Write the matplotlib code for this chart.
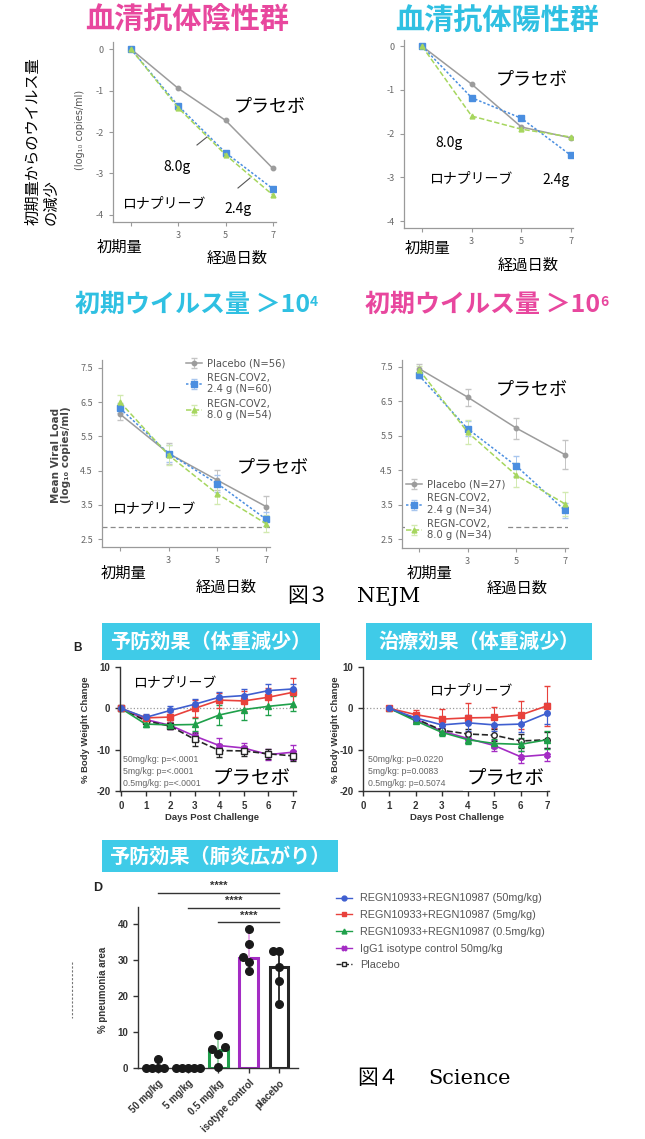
import numpy as np
import matplotlib
matplotlib.use('Agg')
import matplotlib.pyplot as plt
from matplotlib.lines import Line2D
from matplotlib.patches import Rectangle

plt.rcParams['font.family'] = ['Noto Sans CJK JP', 'DejaVu Sans']

W, H = 645, 1139

# ---- NEJM: change from baseline (top) ----
days_nejm = [1, 3, 5, 7]
day_labels = ['', '3', '5', '7']
neg_placebo = [0, -0.95, -1.72, -2.88]
neg_24 = [0, -1.37, -2.50, -3.37]
neg_80 = [0, -1.42, -2.55, -3.52]
pos_placebo = [0, -0.87, -1.85, -2.10]
pos_24 = [0, -1.18, -1.65, -2.50]
pos_80 = [0, -1.60, -1.90, -2.08]

# ---- NEJM: mean viral load (middle) ----
vl4_placebo = [6.15, 5.00, 4.22, 3.45]
vl4_placebo_err = [0.18, 0.32, 0.30, 0.32]
vl4_24 = [6.32, 5.00, 4.12, 3.08]
vl4_24_err = [0.15, 0.25, 0.25, 0.20]
vl4_80 = [6.50, 4.95, 3.82, 2.95]
vl4_80_err = [0.22, 0.30, 0.28, 0.25]
vl6_placebo = [7.45, 6.62, 5.72, 4.95]
vl6_placebo_err = [0.12, 0.25, 0.30, 0.42]
vl6_24 = [7.25, 5.70, 4.62, 3.33]
vl6_24_err = [0.08, 0.22, 0.28, 0.22]
vl6_80 = [7.42, 5.60, 4.35, 3.52]
vl6_80_err = [0.10, 0.35, 0.35, 0.35]
lod = 2.85
leg4 = ['Placebo (N=56)', 'REGN-COV2,\n2.4 g (N=60)', 'REGN-COV2,\n8.0 g (N=54)']
leg6 = ['Placebo (N=27)', 'REGN-COV2,\n2.4 g (N=34)', 'REGN-COV2,\n8.0 g (N=34)']

# ---- Science: body weight change ----
days_pro = [0, 1, 2, 3, 4, 5, 6, 7]
pro_50 = [0, -2.2, -0.5, 1.0, 2.7, 3.1, 4.3, 4.7]
pro_50_err = [0, 0.8, 1.0, 1.2, 1.3, 1.5, 1.5, 1.3]
pro_5 = [0, -2.3, -2.1, 0.0, 2.0, 1.8, 2.7, 3.9]
pro_5_err = [0, 0.8, 1.2, 2.0, 1.8, 2.5, 2.2, 3.5]
pro_05 = [0, -3.8, -4.0, -3.9, -1.6, -0.3, 0.5, 1.1]
pro_05_err = [0, 0.6, 0.8, 1.5, 2.5, 2.5, 2.0, 1.8]
pro_igg = [0, -2.7, -4.1, -6.7, -9.0, -9.6, -11.2, -10.6]
pro_igg_err = [0, 0.8, 0.8, 1.0, 1.8, 1.3, 1.3, 1.8]
pro_pbo = [0, -3.0, -4.3, -7.5, -10.2, -10.3, -11.0, -11.5]
pro_pbo_err = [0, 0.8, 0.8, 1.5, 1.5, 1.2, 1.2, 1.2]

days_ther = [1, 2, 3, 4, 5, 6, 7]
ther_50 = [0, -2.3, -4.0, -3.5, -4.0, -3.8, -1.2]
ther_50_err = [0, 0.8, 1.5, 2.0, 1.5, 2.0, 2.5]
ther_5 = [0, -1.5, -2.6, -2.3, -2.2, -1.6, 0.6]
ther_5_err = [0, 1.0, 2.5, 3.5, 2.5, 3.3, 4.8]
ther_05 = [0, -3.0, -5.8, -7.6, -8.5, -8.7, -7.6]
ther_05_err = [0, 0.6, 0.8, 1.0, 1.2, 1.5, 2.2]
ther_igg = [0, -2.6, -5.5, -7.3, -9.0, -11.7, -11.2]
ther_igg_err = [0, 0.6, 0.8, 1.0, 1.3, 1.5, 1.5]
ther_pbo = [0, -2.5, -5.3, -6.2, -6.5, -7.9, -7.6]
ther_pbo_err = [0, 0.8, 1.0, 1.2, 1.5, 1.8, 2.0]

pval_pro = ['50mg/kg: p=<.0001', '5mg/kg: p=<.0001', '0.5mg/kg: p=<.0001']
pval_ther = ['50mg/kg: p=0.0220', '5mg/kg: p=0.0083', '0.5mg/kg: p=0.5074']
sci_labels = ['REGN10933+REGN10987 (50mg/kg)', 'REGN10933+REGN10987 (5mg/kg)',
              'REGN10933+REGN10987 (0.5mg/kg)', 'IgG1 isotype control 50mg/kg', 'Placebo']

# ---- Science: pneumonia area ----
pneu_groups = ['50 mg/kg', '5 mg/kg', '0.5 mg/kg', 'isotype control', 'placebo']
pneu_bar = [0, 0, 5.0, 30.5, 28.0]
pneu_pts = [[0, 0, 0, 0, 2.4],
            [0, 0, 0, 0, 0],
            [0.2, 4.0, 5.3, 5.8, 9.2],
            [27.0, 29.5, 30.8, 34.3, 38.7],
            [17.8, 24.2, 28.0, 32.4, 32.4]]
sig_pairs = [(2, 4), (1, 4), (0, 4)]

PINK = '#e8479e'
CYAN = '#2fc0e2'
BANNER = '#3fcbe8'
C_PBO, C_24, C_80 = '#9c9c9c', '#4a8ee0', '#a6d65e'
SCI = {'50': '#3f5fd0', '5': '#e8413c', '05': '#1fa04a', 'igg': '#a42cc4', 'pbo': '#262626'}

fig = plt.figure(figsize=(W / 100, H / 100), dpi=100)


def px_axes(x0, y0, x1, y1):
    ax = fig.add_axes([x0 / W, 1 - y1 / H, (x1 - x0) / W, (y1 - y0) / H])
    ax.patch.set_alpha(0)
    return ax


def nejm_axes(box, xl, yl, yt, ytl):
    ax = px_axes(*box)
    ax.set_xlim(*xl)
    ax.set_ylim(*yl)
    for s in ('top', 'right'):
        ax.spines[s].set_visible(False)
    for s in ('left', 'bottom'):
        ax.spines[s].set_color('#9a9a9a')
        ax.spines[s].set_linewidth(0.9)
    ax.tick_params(colors='#9a9a9a', labelcolor='#666666', labelsize=6.5, length=3, width=0.8)
    ax.set_xticks(days_nejm)
    ax.set_xticklabels(day_labels)
    ax.set_yticks(yt)
    ax.set_yticklabels(ytl)
    return ax


def draw_nejm(ax, pl, a, b, e=(None, None, None)):
    h1 = ax.errorbar(days_nejm, pl, yerr=e[0], color=C_PBO, ecolor='#c4c4c4', marker='o', ms=3.2,
                     lw=1.1, capsize=2, elinewidth=0.7)
    h2 = ax.errorbar(days_nejm, a, yerr=e[1], color=C_24, ecolor='#a8c6ee', marker='s', ms=3.8,
                     lw=1.1, ls=(0, (1.6, 1.3)), capsize=2, elinewidth=0.7)
    h3 = ax.errorbar(days_nejm, b, yerr=e[2], color=C_80, ecolor='#d2eab0', marker='^', ms=3.5,
                     lw=1.1, ls=(0, (3.5, 1.6)), capsize=2, elinewidth=0.7)
    return [h1, h2, h3]


# top-left
ax1 = nejm_axes((113, 42, 276, 222), (0.24, 7.13), (-4.17, 0.17),
                [0, -1, -2, -3, -4], ['0', '-1', '-2', '-3', '-4'])
draw_nejm(ax1, neg_placebo, neg_24, neg_80)
# top-right
ax2 = nejm_axes((404, 40, 573, 228), (0.275, 7.08), (-4.16, 0.14),
                [0, -1, -2, -3, -4], ['0', '-1', '-2', '-3', '-4'])
draw_nejm(ax2, pos_placebo, pos_24, pos_80)

vt = [2.5, 3.5, 4.5, 5.5, 6.5, 7.5]
vtl = ['2.5', '3.5', '4.5', '5.5', '6.5', '7.5']
ax3 = nejm_axes((102, 360, 270, 547), (0.26, 7.16), (2.27, 7.73), vt, vtl)
ax3.axhline(lod, color='#8a8a8a', ls=(0, (4, 2.5)), lw=0.9)
hs = draw_nejm(ax3, vl4_placebo, vl4_24, vl4_80, (vl4_placebo_err, vl4_24_err, vl4_80_err))
ax3.legend(hs, leg4, loc='upper left', bbox_to_anchor=(0.50, 1.01), frameon=False,
           labelcolor='#555555', handlelength=1.6, handletextpad=0.5, borderpad=0, borderaxespad=0,
           labelspacing=0.45, prop={'family': 'DejaVu Sans', 'size': 7.2})

ax4 = nejm_axes((402, 360, 568, 548), (0.30, 7.12), (2.24, 7.70), vt, vtl)
ax4.axhline(lod, color='#8a8a8a', ls=(0, (4, 2.5)), lw=0.9)
hs = draw_nejm(ax4, vl6_placebo, vl6_24, vl6_80, (vl6_placebo_err, vl6_24_err, vl6_80_err))
ax4.legend(hs, leg6, loc='lower left', bbox_to_anchor=(0.02, 0.035), frameon=True, facecolor='white',
           edgecolor='none', framealpha=1, labelcolor='#555555', handlelength=1.6, handletextpad=0.5,
           borderpad=0.1, borderaxespad=0, labelspacing=0.4,
           prop={'family': 'DejaVu Sans', 'size': 7.2})

# ---- body weight panels ----
SANS = ['Liberation Sans', 'DejaVu Sans']


def prism_axes(box, xl):
    ax = px_axes(*box)
    ax.set_xlim(*xl)
    ax.set_ylim(-20, 10.5)
    for s in ('top', 'right'):
        ax.spines[s].set_visible(False)
    ax.spines['left'].set_bounds(-20, 10)
    for s in ('left', 'bottom'):
        ax.spines[s].set_linewidth(1.0)
        ax.spines[s].set_color('#333333')
    ax.set_yticks([-20, -10, 0, 10])
    ax.set_yticklabels(['-20', '-10', '0', '10'])
    ax.set_xticks(range(8))
    ax.tick_params(labelsize=7, length=3.5, width=1, colors='#333333')
    for lbl in ax.get_xticklabels() + ax.get_yticklabels():
        lbl.set_fontweight('bold')
        lbl.set_family(SANS)
    ax.axhline(0, color='#999999', ls=':', lw=0.9)
    return ax


def draw_bw(ax, days, sets, pbo_marker):
    styles = [('igg', 'X', '-', None), ('pbo', pbo_marker, '--', 'white'), ('05', '^', '-', None),
              ('5', 's', '-', None), ('50', 'o', '-', None)]
    for (k, m, ls, mfc), (y, e) in zip(styles, sets):
        ax.errorbar(days, y, yerr=e, color=SCI[k], marker=m, ms=4, lw=1.2, ls=ls,
                    mfc=mfc if mfc else SCI[k], capsize=2.5, elinewidth=0.8, clip_on=False)


bwL = prism_axes((120, 665, 296, 791), (-0.04, 7.12))
draw_bw(bwL, days_pro, [(pro_igg, pro_igg_err), (pro_pbo, pro_pbo_err), (pro_05, pro_05_err),
                        (pro_5, pro_5_err), (pro_50, pro_50_err)], 's')
bwR = prism_axes((363, 665, 549, 791), (0, 7.08))
draw_bw(bwR, days_ther, [(ther_igg, ther_igg_err), (ther_pbo, ther_pbo_err), (ther_05, ther_05_err),
                         (ther_5, ther_5_err), (ther_50, ther_50_err)], 'o')

# ---- pneumonia bar chart ----
bx = px_axes(138, 907, 298, 1068)
bx.set_xlim(-0.66, 4.63)
bx.set_ylim(0, 44.7)
for s in ('top', 'right'):
    bx.spines[s].set_visible(False)
for s in ('left', 'bottom'):
    bx.spines[s].set_linewidth(1.0)
    bx.spines[s].set_color('#333333')


def swarm(vals, dy=2.3, dx=0.2):
    placed, offs = [], []
    for v in vals:
        for k in [0, -1, 1, -2, 2, -3, 3]:
            o = k * dx
            if all(abs(v - pv) >= dy or abs(o - po) >= dx * 0.99 for pv, po in placed):
                break
        placed.append((v, o))
        offs.append(o)
    return np.array(offs)


bar_cols = [SCI['50'], SCI['5'], SCI['05'], SCI['igg'], SCI['pbo']]
err_cols = ['#222222', '#222222', '#9ad4a8', '#e6a6ea', '#222222']
for i, (h, pts) in enumerate(zip(pneu_bar, pneu_pts)):
    bx.bar(i, h, width=0.62, facecolor='white', edgecolor=bar_cols[i], lw=2.2, zorder=2)
    bx.errorbar(i, h, yerr=[[h - min(pts)], [max(pts) - h]], color=err_cols[i], capsize=3,
                lw=1.3, zorder=3)
    bx.scatter(i + swarm(pts), pts, s=30, color='#1a1a1a', zorder=4, clip_on=False)

for n, (a, b) in enumerate(sig_pairs):
    yl = 40.4 + 4.15 * n
    bx.plot([a, b], [yl, yl], color='#333333', lw=1.0, clip_on=False)
    bx.text((a + b) / 2, yl + 0.4, '****', ha='center', va='bottom', fontsize=8, weight='bold',
            color='#333333', family=SANS)

bx.set_yticks([0, 10, 20, 30, 40])
bx.set_xticks(range(len(pneu_groups)))
bx.set_xticklabels(pneu_groups, rotation=45, ha='right', rotation_mode='anchor')
bx.tick_params(labelsize=7, length=3.5, width=1, colors='#333333')
for lbl in bx.get_xticklabels() + bx.get_yticklabels():
    lbl.set_fontweight('bold')
    lbl.set_family(SANS)

# Science legend
sci_handles = [Line2D([], [], color=SCI[k], marker=m, ms=3.5, lw=1, ls=ls, mfc=mfc if mfc else SCI[k])
               for k, m, ls, mfc in [('50', 'o', '-', None), ('5', 's', '-', None), ('05', '^', '-', None),
                                     ('igg', 'X', '-', None), ('pbo', 's', '--', 'white')]]
fig.legend(sci_handles, sci_labels, loc='upper left', bbox_to_anchor=(331 / W, 1 - 888 / H),
           frameon=False, labelcolor='#555555', handlelength=1.4, handletextpad=0.8,
           labelspacing=0.62, borderpad=0, prop={'family': SANS, 'size': 7.8})

# ---- overlay text (pixel coordinates) ----
ov = fig.add_axes([0, 0, 1, 1], zorder=10)
ov.set_xlim(0, W)
ov.set_ylim(H, 0)
ov.axis('off')


def t(x, y, s, size=10, ha='center', va='center', **kw):
    return ov.text(x, y, s, fontsize=size, ha=ha, va=va, **kw)


t(187, 20, '血清抗体陰性群', 21, color=PINK, weight='bold')
t(497, 20, '血清抗体陽性群', 21, color=CYAN, weight='bold')

t(42, 141, '初期量からのウイルス量\nの減少', 11, rotation=90, multialignment='left', linespacing=1.05)
t(80, 130, '(log₁₀ copies/ml)', 7, rotation=90, color='#555555', family=['DejaVu Sans'])

for (x, y, s, sz) in [(270, 107, 'プラセボ', 13), (177, 167, '8.0g', 10), (164, 203, 'ロナプリーブ', 10),
                      (238, 209, '2.4g', 10), (120, 247, '初期量', 11), (237, 258, '経過日数', 11),
                      (532, 80, 'プラセボ', 13), (449, 143, '8.0g', 10), (471, 178, 'ロナプリーブ', 10),
                      (556, 180, '2.4g', 10), (428, 248, '初期量', 11), (528, 265, '経過日数', 11),
                      (273, 468, 'プラセボ', 13), (154, 508, 'ロナプリーブ', 10), (124, 573, '初期量', 11),
                      (226, 587, '経過日数', 11), (532, 390, 'プラセボ', 13), (430, 573, '初期量', 11),
                      (517, 588, '経過日数', 11)]:
    t(x, y, s, sz)
ov.plot([197, 207], [145, 137], color='#555555', lw=0.8)
ov.plot([238, 250], [188, 178], color='#555555', lw=0.8)

# middle titles with superscript
for x, c, sup in [(75, CYAN, '4'), (365, PINK, '6')]:
    tt = t(x, 305, '初期ウイルス量 ＞10', 18, ha='left', color=c, weight='bold')
    ov.annotate(sup, xy=(1, 0.92), xycoords=tt, ha='left', va='top', fontsize=10, color=c,
                weight='bold')

t(56, 455, 'Mean Viral Load', 7.5, rotation=90, color='#444444', weight='bold', family=['DejaVu Sans'])
t(66, 455, '(log₁₀ copies/ml)', 7.5, rotation=90, color='#444444', weight='bold', family=['DejaVu Sans'])

SERIF = ['DejaVu Serif', 'Noto Sans CJK JP']
t(287, 596, '図３', 15, ha='left', family=SERIF)
t(357, 596, 'NEJM', 15, ha='left', family=SERIF)
t(357, 1078, '図４', 15, ha='left', family=SERIF)
t(428, 1078, 'Science', 15, ha='left', family=SERIF)

# banners
for (x0, y0, x1, y1, s) in [(102, 623, 320, 660, '予防効果（体重減少）'),
                            (366, 623, 592, 660, '治療効果（体重減少）'),
                            (102, 840, 338, 872, '予防効果（肺炎広がり）')]:
    ov.add_patch(Rectangle((x0, y0), x1 - x0, y1 - y0, facecolor=BANNER, edgecolor='none'))
    t((x0 + x1) / 2, (y0 + y1) / 2, s, 14.5, color='white', weight='bold')

t(78, 648, 'B', 8.5, weight='bold', color='#222222', family=SANS)
t(98, 888, 'D', 9, weight='bold', color='#222222', family=SANS)

t(175, 682, 'ロナプリーブ', 10)
t(251, 778, 'プラセボ', 14)
t(471, 690, 'ロナプリーブ', 10)
t(505, 778, 'プラセボ', 14, bbox=dict(facecolor='white', edgecolor='none', pad=2))
for i, (a, b) in enumerate(zip(pval_pro, pval_ther)):
    t(123, 760 + 11.5 * i, a, 6.3, ha='left', color='#666666', family=SANS)
    t(368, 760 + 11.5 * i, b, 6.3, ha='left', color='#666666', family=SANS)

for x in (85, 335):
    t(x, 730, '% Body Weight Change', 6.8, rotation=90, weight='bold', color='#333333', family=SANS)
t(212, 817, 'Days Post Challenge', 6.8, weight='bold', color='#333333', family=SANS)
t(457, 817, 'Days Post Challenge', 6.8, weight='bold', color='#333333', family=SANS)
t(103, 990, '% pneumonia area', 7, rotation=90, weight='bold', color='#333333', family=SANS)
ov.plot([72, 72], [962, 1018], color='#777777', lw=0.8, ls=(0, (2, 1.5)))

fig.savefig('out.png', dpi=100)
